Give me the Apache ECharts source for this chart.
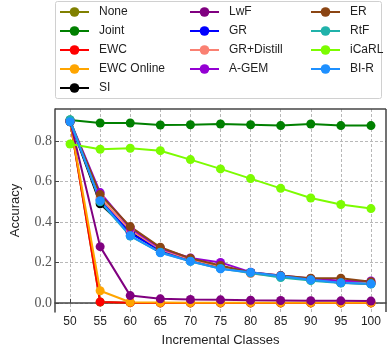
<!DOCTYPE html>
<html><head><meta charset="utf-8">
<script src="https://cdn.jsdelivr.net/npm/echarts@6/dist/echarts.min.js"></script>
<style>html,body{margin:0;padding:0;background:#fff}#c{width:387px;height:345px}</style>
</head><body><div id="c"></div>
<script>
const classes = [50, 55, 60, 65, 70, 75, 80, 85, 90, 95, 100];
const xTicks = [50, 55, 60, 65, 70, 75, 80, 85, 90, 95, 100];
const yTicks = [0, 0.2, 0.4, 0.6, 0.8];

const names = ['None','Joint','EWC','EWC Online','SI','LwF','GR','GR+Distill','A-GEM','ER','RtF','iCaRL','BI-R'];
const colors = ['#808000','#008000','#ff0000','#ffa500','#000000','#800080','#0000ff','#fa8072','#9400d3','#8b4513','#20b2aa','#7cfc00','#1e90ff'];

const none      = [0.900, 0.004, 0.001, 0.000, 0.000, 0.000, 0.000, 0.000, 0.000, 0.000, 0.000];
const joint     = [0.904, 0.889, 0.889, 0.879, 0.880, 0.884, 0.880, 0.876, 0.884, 0.876, 0.876];
const ewc       = [0.900, 0.005, 0.001, 0.000, 0.000, 0.000, 0.000, 0.000, 0.000, 0.000, 0.000];
const ewcOnline = [0.900, 0.060, 0.003, 0.002, 0.001, 0.001, 0.001, 0.001, 0.001, 0.001, 0.001];
const si        = [0.895, 0.490, 0.350, 0.260, 0.210, 0.178, 0.150, 0.130, 0.115, 0.100, 0.095];
const lwf       = [0.900, 0.278, 0.036, 0.020, 0.017, 0.015, 0.013, 0.012, 0.011, 0.010, 0.009];
const gr        = [0.900, 0.510, 0.345, 0.260, 0.210, 0.180, 0.150, 0.130, 0.115, 0.105, 0.100];
const grDistill = [0.900, 0.520, 0.360, 0.265, 0.215, 0.180, 0.145, 0.130, 0.115, 0.105, 0.100];
const agem      = [0.900, 0.545, 0.370, 0.270, 0.222, 0.200, 0.152, 0.135, 0.120, 0.110, 0.108];
const er        = [0.895, 0.535, 0.377, 0.275, 0.220, 0.185, 0.150, 0.135, 0.122, 0.122, 0.105];
const rtf       = [0.905, 0.500, 0.330, 0.250, 0.205, 0.170, 0.148, 0.125, 0.110, 0.098, 0.093];
const icarl     = [0.785, 0.759, 0.764, 0.752, 0.708, 0.662, 0.614, 0.566, 0.518, 0.486, 0.466];
const bir       = [0.895, 0.505, 0.332, 0.248, 0.206, 0.168, 0.151, 0.133, 0.114, 0.100, 0.094];

const values = [none, joint, ewc, ewcOnline, si, lwf, gr, grDistill, agem, er, rtf, icarl, bir];

const chart = echarts.init(document.getElementById('c'));
const series = names.map((n, i) => ({
  name: n, type: 'line',
  data: classes.map((c, j) => [c, values[i][j]]),
  symbol: 'circle', symbolSize: 9, showSymbol: true,
  lineStyle: { width: 2, color: colors[i] },
  itemStyle: { color: colors[i] },
  clip: false, animation: false, z: 2
}));

const legendBase = {
  orient: 'vertical', padding: 0, itemWidth: 29, itemHeight: 12, itemGap: 7,
  textStyle: { fontFamily: 'Liberation Sans', fontSize: 12, color: '#222', padding: [0, 0, 0, 5] },
  top: 6
};

chart.setOption({
  animation: false,
  color: colors,
  grid: { left: 55, right: 1, top: 109, bottom: 33, containLabel: false, outerBoundsMode: 'none' },
  legend: [
    Object.assign({}, legendBase, { left: 59, data: names.slice(0, 5) }),
    Object.assign({}, legendBase, { left: 189, data: names.slice(5, 9) }),
    Object.assign({}, legendBase, { left: 310, data: names.slice(9, 13) })
  ],
  graphic: [{
    type: 'rect', shape: { x: 55.5, y: 1.5, width: 326, height: 97, r: 2 },
    style: { fill: 'none', stroke: '#d0d0d0', lineWidth: 1 }, z: -1
  }],
  xAxis: {
    type: 'value', min: 47.5, max: 102.5,
    name: 'Incremental Classes', nameLocation: 'middle', nameGap: 22,
    nameTextStyle: { fontFamily: 'Liberation Sans', fontSize: 13, color: '#222' },
    axisLine: { show: true, lineStyle: { color: '#444', width: 1.5 } },
    axisTick: { show: true, inside: true, length: 4, customValues: xTicks, lineStyle: { color: '#444' } },
    axisLabel: { customValues: xTicks, fontFamily: 'Liberation Sans', fontSize: 12, color: '#222', margin: 4 },
    splitLine: { show: true, lineStyle: { type: [3, 2], color: '#b8b8b8', width: 1 } }
  },
  yAxis: {
    type: 'value', min: -0.045, max: 0.958,
    name: 'Accuracy', nameLocation: 'middle', nameGap: 33,
    nameTextStyle: { fontFamily: 'Liberation Sans', fontSize: 13, color: '#222' },
    axisLine: { show: true, lineStyle: { color: '#444', width: 1.5 } },
    axisTick: { show: true, inside: true, length: 4, customValues: yTicks, lineStyle: { color: '#444' } },
    axisLabel: { customValues: yTicks, fontFamily: 'Liberation Serif', fontSize: 14, color: '#555', margin: 3,
      formatter: v => v.toFixed(1) },
    splitLine: { show: true, lineStyle: { type: [3, 2], color: '#b8b8b8', width: 1 } }
  },
  series: series.concat([{
    type: 'line', data: [], silent: true,
    markLine: { silent: true, symbol: 'none', animation: false, label: { show: false },
      lineStyle: { color: '#444', width: 1.5, type: 'solid' },
      data: [[{ coord: [47.5, 0.958] }, { coord: [102.5, 0.958] }],
             [{ coord: [102.5, -0.045] }, { coord: [102.5, 0.958] }]] }
  }])
});
</script></body></html>
